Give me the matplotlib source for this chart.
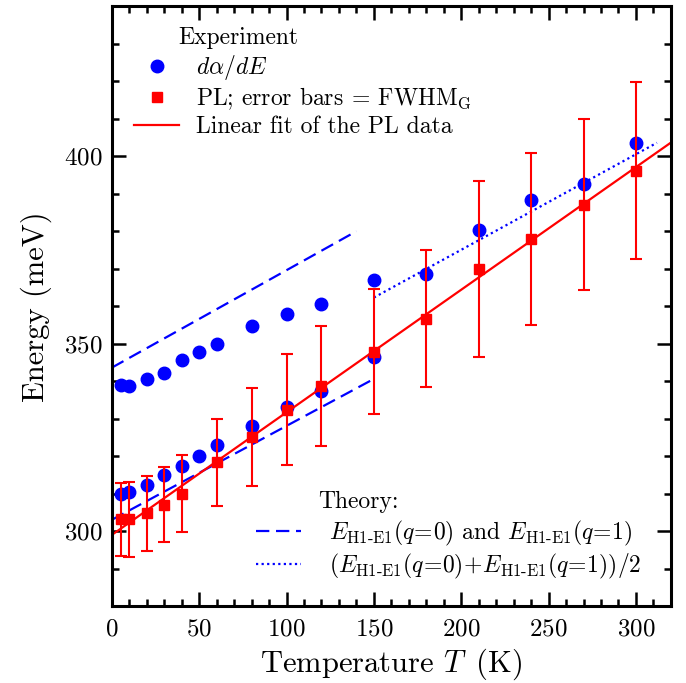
import numpy as np
import matplotlib.pyplot as plt
from matplotlib.lines import Line2D

plt.rcParams['font.family'] = 'serif'
plt.rcParams['font.serif'] = ['cmr10']
plt.rcParams['mathtext.fontset'] = 'cm'
plt.rcParams['axes.formatter.use_mathtext'] = True

# PL peak positions (meV) and FWHM_G error bars
T_pl = [5, 10, 20, 30, 40, 60, 80, 100, 120, 150, 180, 210, 240, 270, 300]
E_pl = [303.1, 303.1, 304.7, 307.0, 310.0, 318.4, 325.2, 332.4, 338.7, 347.9,
        356.7, 369.9, 378.0, 387.1, 396.1]
err_pl = [9.7, 10.0, 9.9, 10.0, 10.3, 11.6, 13.1, 14.9, 16.0, 16.7,
          18.2, 23.5, 23.0, 22.9, 23.6]

# absorption derivative peaks, two branches at low T
T_abs_upper = [5, 10, 20, 30, 40, 50, 60, 80, 100, 120, 150]
E_abs_upper = [338.9, 338.6, 340.7, 342.2, 345.6, 347.9, 349.9, 354.7, 358.0, 360.5, 367.1]
T_abs_lower = [5, 10, 20, 30, 40, 50, 60, 80, 100, 120, 150]
E_abs_lower = [310.0, 310.4, 312.2, 314.9, 317.4, 320.0, 323.0, 328.0, 333.0, 337.3, 346.5]
T_abs_high = [180, 210, 240, 270, 300]
E_abs_high = [368.7, 380.2, 388.2, 392.5, 403.6]

# theory: E_H1-E1(q=0), E_H1-E1(q=1) and their average
T_q0 = [0, 140]
E_q0 = [343.6, 380.0]
T_q1 = [0, 150]
E_q1 = [303.0, 340.6]
T_avg = [150, 312]
E_avg = [362.3, 403.6]

fig = plt.figure(figsize=(6.86, 6.83), dpi=100)
ax = fig.add_axes([0.163, 0.1127, 0.815, 0.878])

ax.plot(T_q0, E_q0, color='blue', ls=(0, (6, 3)), lw=1.6)
ax.plot(T_q1, E_q1, color='blue', ls=(0, (6, 3)), lw=1.6)
ax.plot(T_avg, E_avg, color='blue', ls=(0, (1, 1.5)), lw=1.6)

ax.plot(T_abs_upper, E_abs_upper, 'o', color='blue', ms=9)
ax.plot(T_abs_lower, E_abs_lower, 'o', color='blue', ms=9)
ax.plot(T_abs_high, E_abs_high, 'o', color='blue', ms=9)

# linear fit of the PL data
p = np.polyfit(T_pl, E_pl, 1)
T_fit = np.array([0, 320])
ax.plot(T_fit, np.polyval(p, T_fit), color='red', lw=1.6)

ax.errorbar(T_pl, E_pl, yerr=err_pl, fmt='s', color='red', ms=7.5,
            elinewidth=1.5, capsize=4, capthick=1.5)

ax.set_xlim(0, 320)
ax.set_ylim(280, 440)
ax.set_xticks([0, 50, 100, 150, 200, 250, 300])
ax.set_xticks(np.arange(0, 321, 10), minor=True)
ax.set_yticks([300, 350, 400])
ax.set_yticks(np.arange(280, 441, 10), minor=True)
ax.tick_params(which='both', direction='in', top=True, right=True,
               labelsize=18, width=1.8)
ax.tick_params(which='major', length=10)
ax.tick_params(which='minor', length=5)
ax.tick_params(axis='x', pad=9)
ax.tick_params(axis='y', pad=7)
for s in ax.spines.values():
    s.set_linewidth(2.2)

ax.set_xlabel(r'Temperature $T\,$ (K)', fontsize=22, labelpad=4)
ax.set_ylabel('Energy (meV)', fontsize=22, labelpad=8)

exp_handles = [
    Line2D([], [], marker='o', color='blue', ls='none', ms=9),
    Line2D([], [], marker='s', color='red', ls='none', ms=7.5),
    Line2D([], [], color='red', lw=1.6),
]
exp_labels = [r'$d\alpha/dE$', r'PL; error bars $\!=\!$ FWHM$_{\rm G}$',
              'Linear fit of the PL data']
leg1 = ax.legend(exp_handles, exp_labels, loc='upper left',
                 bbox_to_anchor=(0.04, 0.922), frameon=False, fontsize=17,
                 handlelength=1.9, handletextpad=0.7, labelspacing=0.15,
                 borderpad=0, borderaxespad=0)
ax.add_artist(leg1)
ax.text(0.119, 0.948, 'Experiment', transform=ax.transAxes, fontsize=17,
        va='center', ha='left')

th_handles = [
    Line2D([], [], color='blue', ls=(0, (6, 3)), lw=1.6),
    Line2D([], [], color='blue', ls=(0, (1, 1.5)), lw=1.6),
]
th_labels = [r'$E_{\mathrm{H1\text{-}E1}}(q\!=\!0)$ and $E_{\mathrm{H1\text{-}E1}}(q\!=\!1)$',
             r'$(E_{\mathrm{H1\text{-}E1}}(q\!=\!0)\!+\!E_{\mathrm{H1\text{-}E1}}(q\!=\!1))/2$']
ax.legend(th_handles, th_labels, loc='upper left',
          bbox_to_anchor=(0.258, 0.145), frameon=False, fontsize=17,
          handlelength=1.9, handletextpad=1.2, labelspacing=0.15,
          borderpad=0, borderaxespad=0)
ax.text(0.369, 0.173, 'Theory:', transform=ax.transAxes, fontsize=17,
        va='center', ha='left')

fig.savefig('out.png', dpi=100)
